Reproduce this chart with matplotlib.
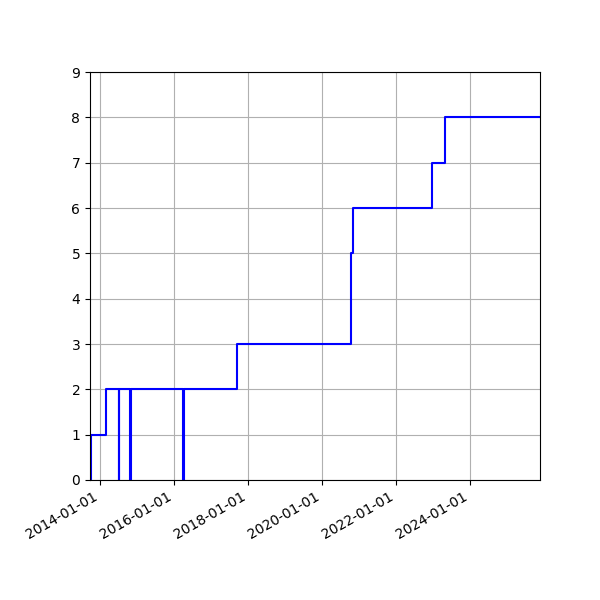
import matplotlib
matplotlib.use('Agg')
import matplotlib.pyplot as plt
import matplotlib.dates as mdates
import pandas as pd

# change dates and the running count after each change
dates = ['2013-09-28', '2013-09-30', '2014-02-26',
         '2014-07-01', '2014-07-08',
         '2014-10-23', '2014-10-30',
         '2016-03-29', '2016-04-05',
         '2017-09-13', '2020-10-09', '2020-11-01',
         '2022-12-24', '2023-04-27', '2025-11-21']
counts = [0, 1, 2,
          0, 2,
          0, 2,
          0, 2,
          3, 5, 6,
          7, 8, 8]
x_start = '2013-09-21'
x_end = '2025-11-21'
tick_years = [2014, 2016, 2018, 2020, 2022, 2024]

t = pd.to_datetime(dates)

fig, ax = plt.subplots(figsize=(6, 6), dpi=100)
ax.plot(t, counts, drawstyle='steps-post', color='blue', linewidth=1.5)

ax.set_xlim(pd.Timestamp(x_start), pd.Timestamp(x_end))
ax.set_ylim(0, 9)
ax.set_yticks(range(0, 10))
ax.set_xticks([pd.Timestamp(f'{y}-01-01') for y in tick_years])
ax.xaxis.set_major_formatter(mdates.DateFormatter('%Y-%m-%d'))
ax.grid(True)

fig.autofmt_xdate()
fig.subplots_adjust(left=0.15, right=0.9, bottom=0.2, top=0.88)

plt.savefig('out.png')
plt.close()
